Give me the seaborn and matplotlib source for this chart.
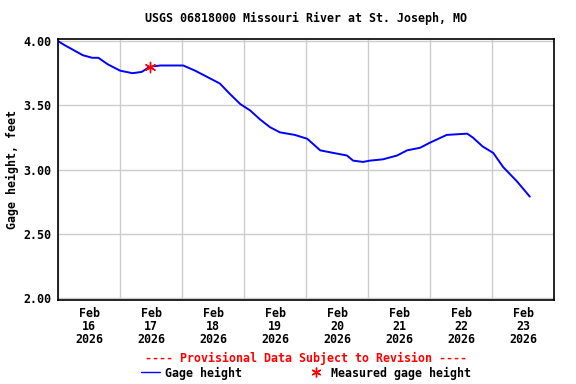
import pandas as pd
import numpy as np
import matplotlib.pyplot as plt
import matplotlib.dates as mdates
from matplotlib.lines import Line2D
import seaborn as sns

# gage height readings, offset in days from Feb 16 2026 00:00
days = [0.00, 0.10, 0.25, 0.40, 0.55, 0.65, 0.80, 1.00, 1.20, 1.35,
        1.48, 1.65, 1.89, 2.02, 2.21, 2.45, 2.61, 2.77, 2.94, 3.10,
        3.26, 3.42, 3.58, 3.82, 4.02, 4.23, 4.44, 4.66, 4.76, 4.92,
        5.03, 5.24, 5.47, 5.63, 5.84, 6.00, 6.27, 6.60, 6.69, 6.85,
        7.02, 7.18, 7.40, 7.61]
gage = [4.00, 3.97, 3.93, 3.89, 3.87, 3.87, 3.82, 3.77, 3.75, 3.76,
        3.80, 3.81, 3.81, 3.81, 3.77, 3.71, 3.67, 3.59, 3.51, 3.46,
        3.39, 3.33, 3.29, 3.27, 3.24, 3.15, 3.13, 3.11, 3.07, 3.06,
        3.07, 3.08, 3.11, 3.15, 3.17, 3.21, 3.27, 3.28, 3.25, 3.18,
        3.13, 3.02, 2.91, 2.79]

# field measurement
meas_day = [1.48]
meas_val = [3.80]

start = pd.Timestamp("2026-02-16")
df = pd.DataFrame({"time": start + pd.to_timedelta(days, unit="D"),
                   "gage": gage})
mf = pd.DataFrame({"time": start + pd.to_timedelta(meas_day, unit="D"),
                   "gage": meas_val})

sns.set_style("white")
plt.rcParams["font.family"] = ["DejaVu Sans Mono"]
plt.rcParams["font.weight"] = "bold"
plt.rcParams["text.color"] = "black"
plt.rcParams["xtick.color"] = "black"
plt.rcParams["ytick.color"] = "black"
fs = 8.4

fig = plt.figure(figsize=(5.76, 3.84), dpi=100)
ax = fig.add_axes([58 / 576, 1 - 299.5 / 384, 496 / 576, 260.5 / 384])

sns.lineplot(data=df, x="time", y="gage", color="#0000ff", lw=1.4, ax=ax)
sns.scatterplot(data=mf, x="time", y="gage", color="red", marker=(6, 2, 0),
                s=55, linewidth=1.0, ax=ax, zorder=5)

ax.set_xlim(start, start + pd.Timedelta(days=8))
ax.set_ylim(1.99, 4.016)
ax.set_yticks([2.0, 2.5, 3.0, 3.5, 4.0])
ax.set_yticklabels(["2.00", "2.50", "3.00", "3.50", "4.00"],
                   fontsize=fs, fontweight="bold")

ax.xaxis.set_major_locator(mdates.DayLocator())
ax.xaxis.set_major_formatter(plt.NullFormatter())
ax.xaxis.set_minor_locator(mdates.HourLocator(byhour=[12]))
ax.xaxis.set_minor_formatter(mdates.DateFormatter("Feb\n%d\n%Y"))
for lab in ax.get_xticklabels(minor=True):
    lab.set_fontsize(fs)
    lab.set_fontweight("bold")
    lab.set_linespacing(1.0)
ax.tick_params(axis="both", which="both", length=0, pad=5)
ax.tick_params(axis="x", which="minor", pad=5.5)

ax.grid(True, which="major", color="#cccccc", lw=1.0)
for s in ax.spines.values():
    s.set_color("black")
    s.set_linewidth(1.2)
ax.set_xlabel("")
ax.set_ylabel("")

ax.set_title("USGS 06818000 Missouri River at St. Joseph, MO",
             fontsize=fs, fontweight="bold", pad=12)
fig.text(12 / 576, 1 - 170 / 384, "Gage height, feet", rotation=90,
         ha="center", va="center", fontsize=fs, fontweight="bold")
fig.text(306 / 576, 1 - 358 / 384,
         "---- Provisional Data Subject to Revision ----",
         color="red", ha="center", va="center", fontsize=fs,
         fontweight="bold")

handles = [Line2D([], [], color="#0000ff", lw=1.0),
           Line2D([], [], color="red", marker=(6, 2, 0), ls="none",
                  markersize=7, markeredgewidth=1.0)]
fig.legend(handles, ["Gage height", "Measured gage height"], ncol=2,
           loc="center", bbox_to_anchor=(306 / 576, 1 - 373 / 384),
           frameon=False, fontsize=fs, handlelength=1.6, handletextpad=0.5,
           columnspacing=5.5, borderpad=0)

fig.savefig("out.png", dpi=100)
